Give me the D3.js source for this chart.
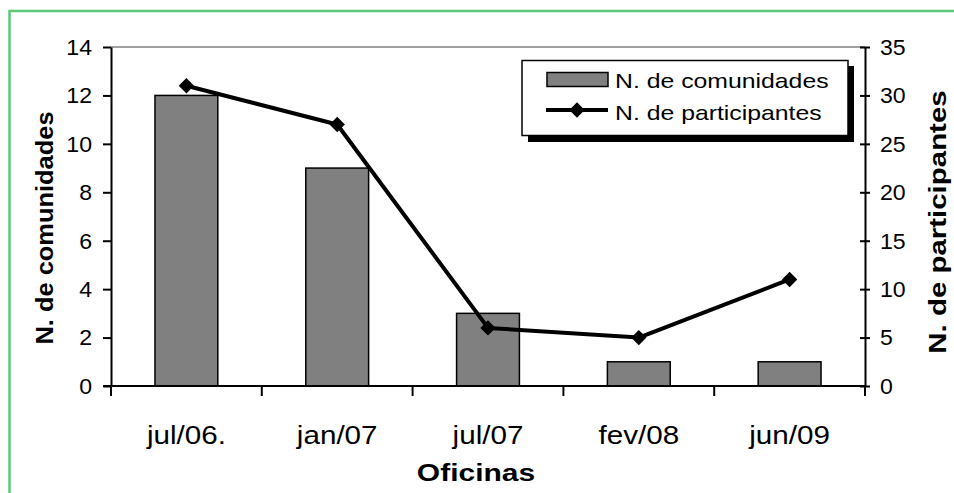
<!DOCTYPE html>
<html>
<head>
<meta charset="utf-8">
<script src="https://cdn.jsdelivr.net/npm/d3@7"></script>
<style>
  html, body { margin: 0; padding: 0; background: #fff; }
  svg { display: block; font-family: "Liberation Sans", Arial, sans-serif; }
</style>
</head>
<body>
<svg id="chart" width="954" height="493"></svg>
<script>
// Workshops (oficinas) and their attendance
const categories = ["jul/06.", "jan/07", "jul/07", "fev/08", "jun/09"];
const communities = [12, 9, 3, 1, 1];          // N. de comunidades (left axis)
const participants = [31, 27, 6, 5, 11];       // N. de participantes (right axis)
const leftTicks = [0, 2, 4, 6, 8, 10, 12, 14];
const rightTicks = [0, 5, 10, 15, 20, 25, 30, 35];
const seriesNames = ["N. de comunidades", "N. de participantes"];

const svg = d3.select("#chart");
const m = { left: 111, right: 865, top: 47, bottom: 386 };

// outer green frame
svg.append("rect")
  .attr("x", 9.5).attr("y", 11).attr("width", 960).attr("height", 520)
  .attr("fill", "none").attr("stroke", "#5cc878").attr("stroke-width", 2.5);

const x = d3.scaleBand().domain(categories).range([m.left, m.right]).paddingInner(0).paddingOuter(0);
const yL = d3.scaleLinear().domain([0, 14]).range([m.bottom, m.top]);
const yR = d3.scaleLinear().domain([0, 35]).range([m.bottom, m.top]);

// text helper: draws text at (px,py), optionally rotated, widened by k along its baseline
function label(g, txt, px, py, opts) {
  const o = Object.assign({ size: 22, weight: "normal", anchor: "middle", k: 1, rot: 0, dy: 0 }, opts || {});
  return g.append("text")
    .attr("transform", `translate(${px},${py}) rotate(${o.rot}) scale(${o.k},1)`)
    .attr("text-anchor", o.anchor)
    .attr("dy", o.dy)
    .attr("font-size", o.size)
    .attr("font-weight", o.weight)
    .attr("fill", "#000")
    .text(txt);
}

// plot area top edge (gray)
svg.append("line")
  .attr("x1", m.left).attr("x2", m.right).attr("y1", m.top).attr("y2", m.top)
  .attr("stroke", "#808080").attr("stroke-width", 1.5);

// bars
const barW = x.bandwidth() / 2.4;
svg.append("g").selectAll("rect").data(communities).join("rect")
  .attr("x", (d, i) => x(categories[i]) + (x.bandwidth() - barW) / 2)
  .attr("y", d => yL(d))
  .attr("width", barW)
  .attr("height", d => yL(0) - yL(d))
  .attr("fill", "#808080").attr("stroke", "#000").attr("stroke-width", 1.5);

// left axis
const gL = svg.append("g").attr("transform", `translate(${m.left},0)`)
  .call(d3.axisLeft(yL).tickValues(leftTicks).tickSize(8).tickSizeOuter(0).tickFormat(d3.format("d")));
gL.select(".domain").attr("stroke", "#000").attr("stroke-width", 2);
gL.selectAll(".tick line").attr("stroke", "#000").attr("stroke-width", 2);
gL.selectAll(".tick text").remove();
leftTicks.forEach(t => label(svg, t, 92, yL(t), { size: 22, anchor: "end", dy: "0.36em", k: 1.05 }));

// right axis with crossing ticks
const gR = svg.append("g").attr("transform", `translate(${m.right},0)`)
  .call(d3.axisRight(yR).tickValues(rightTicks).tickSize(5).tickSizeOuter(0));
gR.select(".domain").attr("stroke", "#000").attr("stroke-width", 2);
gR.selectAll(".tick line").attr("x1", -5).attr("stroke", "#000").attr("stroke-width", 2);
gR.selectAll(".tick text").remove();
rightTicks.forEach(t => label(svg, t, 880, yR(t), { size: 22, anchor: "start", dy: "0.36em", k: 1.05 }));

// bottom axis, ticks at category boundaries
const gB = svg.append("g").attr("transform", `translate(0,${m.bottom})`)
  .call(d3.axisBottom(x).tickSize(0).tickSizeOuter(0).tickFormat(""));
gB.select(".domain").attr("d", `M${m.left - 8},0H${m.right}`).attr("stroke", "#000").attr("stroke-width", 2);
gB.selectAll(".tick").remove();
const bounds = categories.map(c => x(c)).concat([m.right]);
gB.selectAll("line.b").data(bounds).join("line")
  .attr("x1", d => d).attr("x2", d => d).attr("y1", 0).attr("y2", 10)
  .attr("stroke", "#000").attr("stroke-width", 2);
categories.forEach(c => label(svg, c, x(c) + x.bandwidth() / 2, 444, { size: 26, k: 1.14 }));

// participants line with diamond markers
const line = d3.line()
  .x((d, i) => x(categories[i]) + x.bandwidth() / 2)
  .y(d => yR(d));
svg.append("path").datum(participants)
  .attr("d", line).attr("fill", "none").attr("stroke", "#000").attr("stroke-width", 4)
  .attr("stroke-linejoin", "round");
const diamond = d3.symbol().type(d3.symbolDiamond2).size(150);
svg.append("g").selectAll("path").data(participants).join("path")
  .attr("transform", (d, i) => `translate(${x(categories[i]) + x.bandwidth() / 2},${yR(d)})`)
  .attr("d", diamond).attr("fill", "#000");

// axis titles
label(svg, "N. de comunidades", 53, 228, { size: 24, weight: "bold", rot: -90, k: 1.06 });
label(svg, "N. de participantes", 946, 222, { size: 23, weight: "bold", rot: -90, k: 1.28 });
label(svg, "Oficinas", 476, 481, { size: 24, weight: "bold", k: 1.25 });

// legend with drop shadow
const lg = svg.append("g");
lg.append("rect").attr("x", 528).attr("y", 66).attr("width", 326).attr("height", 76).attr("fill", "#000");
lg.append("rect").attr("x", 522).attr("y", 60.5).attr("width", 326).attr("height", 75)
  .attr("fill", "#fff").attr("stroke", "#000").attr("stroke-width", 1.5);
lg.append("rect").attr("x", 547).attr("y", 72.5).attr("width", 61).attr("height", 14)
  .attr("fill", "#808080").attr("stroke", "#000").attr("stroke-width", 1.5);
lg.append("line").attr("x1", 546).attr("x2", 608).attr("y1", 110).attr("y2", 110)
  .attr("stroke", "#000").attr("stroke-width", 4);
lg.append("path").attr("transform", "translate(577,110)").attr("d", diamond).attr("fill", "#000");
label(lg, seriesNames[0], 615, 88, { size: 20, anchor: "start", k: 1.24 });
label(lg, seriesNames[1], 615, 120, { size: 20, anchor: "start", k: 1.24 });
</script>
</body>
</html>
